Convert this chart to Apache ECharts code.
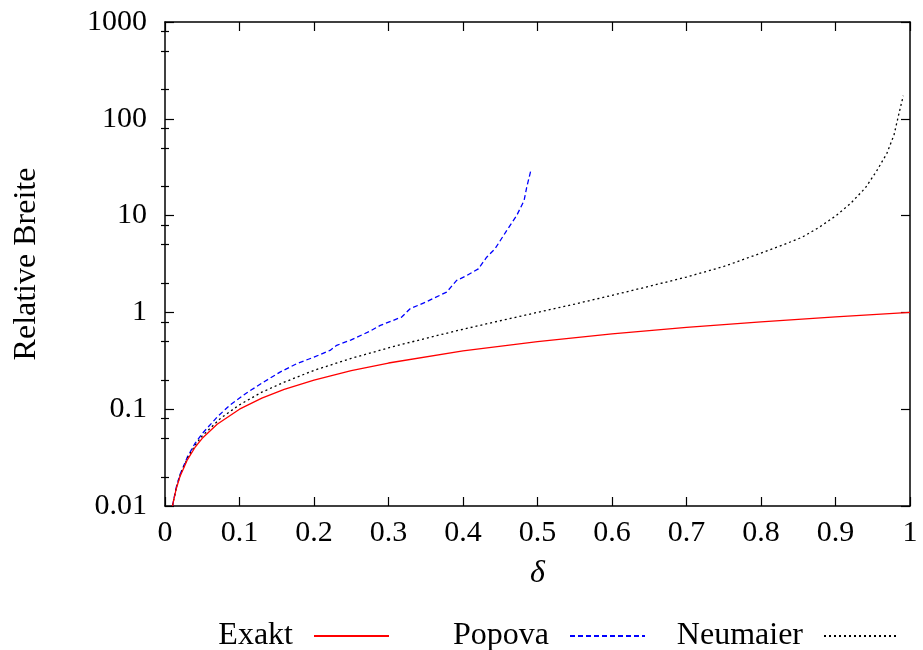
<!DOCTYPE html>
<html>
<head>
<meta charset="utf-8">
<title>Relative Breite</title>
<script src="https://cdn.jsdelivr.net/npm/echarts@6/dist/echarts.min.js"></script>
<style>
  html, body { margin: 0; padding: 0; background: #fff; }
  #chart { width: 923px; height: 650px; }
</style>
</head>
<body>
<div id="chart"></div>
<script>
// Werte
const seriesNames = ['Exakt', 'Popova', 'Neumaier']

const exaktX = [0.01, 0.015, 0.02, 0.03, 0.04, 0.05, 0.07, 0.1, 0.13, 0.16, 0.2, 0.25, 0.3, 0.4, 0.5, 0.6, 0.7, 0.8, 0.9, 1.0]
const exaktY = [0.01, 0.015, 0.02, 0.03, 0.04, 0.05, 0.07, 0.1, 0.13, 0.16, 0.2, 0.25, 0.3, 0.4, 0.5, 0.6, 0.7, 0.8, 0.9, 1.0]

const popovaX = [0.01, 0.015, 0.02, 0.03, 0.04, 0.05, 0.07, 0.087, 0.11, 0.132, 0.155, 0.177, 0.2, 0.2215, 0.2305, 0.25, 0.275, 0.289, 0.3177, 0.329, 0.35, 0.378, 0.3915, 0.405, 0.4206, 0.4318, 0.443, 0.4586, 0.472, 0.482, 0.4855, 0.491]
const popovaY = [0.01, 0.0155, 0.021, 0.032, 0.044, 0.056, 0.083, 0.11, 0.148, 0.19, 0.243, 0.296, 0.345, 0.405, 0.457, 0.52, 0.64, 0.734, 0.895, 1.09, 1.28, 1.62, 2.14, 2.4, 2.82, 3.72, 4.54, 7.0, 10, 14.3, 19.6, 29.1]

const neumaierX = [0.01, 0.015, 0.02, 0.03, 0.04, 0.05, 0.075, 0.1, 0.13, 0.16, 0.2, 0.25, 0.3, 0.35, 0.4, 0.45, 0.5, 0.55, 0.6, 0.65, 0.7, 0.75, 0.8, 0.83, 0.855, 0.878, 0.9, 0.92, 0.94, 0.955, 0.969, 0.9785, 0.985, 0.991]
const neumaierY = [0.0101, 0.0152, 0.0205, 0.031, 0.042, 0.053, 0.081, 0.111, 0.15, 0.19, 0.252, 0.335, 0.43, 0.54, 0.67, 0.82, 1.0, 1.22, 1.5, 1.86, 2.32, 2.98, 4.1, 4.99, 5.97, 7.57, 9.9, 13.3, 19.3, 28.7, 44, 68, 112, 173]

const yMinorTicks = [0.02, 0.05, 0.08, 0.2, 0.5, 0.8, 2, 5, 8, 20, 50, 80, 200, 500, 800]

const pairs = (xs, ys) => xs.map((x, i) => [x, ys[i]])

const FONT = '"Liberation Serif", "DejaVu Serif", serif'
const black = '#000'

const chart = echarts.init(document.getElementById('chart'), null, { renderer: 'canvas' })

const axisLine = { show: true, onZero: false, lineStyle: { color: black, width: 1.5 } }

function yAxisBase(position, showLabel) {
  return {
    type: 'log',
    logBase: 10,
    min: 0.01,
    max: 1000,
    position: position,
    axisLine: axisLine,
    splitLine: { show: false },
    minorTick: { show: false },
    axisTick: { show: true, inside: true, length: 9, lineStyle: { color: black, width: 1.2 } },
    axisLabel: {
      show: showLabel,
      margin: 18,
      color: black,
      fontFamily: FONT,
      fontSize: 30,
      formatter: v => String(+Number(v).toPrecision(3)),
    },
  }
}

// Hilfsachse nur fuer die kleinen Striche bei 2, 5, 8 (in Zehnerpotenzen)
function yAxisMinor(position) {
  return {
    type: 'value',
    min: -2,
    max: 3,
    position: position,
    axisLine: { show: false },
    splitLine: { show: false },
    axisLabel: { show: false },
    axisTick: {
      show: true,
      inside: true,
      length: 4,
      customValues: yMinorTicks.map(v => Math.log10(v)),
      lineStyle: { color: black, width: 1.2 },
    },
  }
}

function xAxisBase(position, showLabel) {
  return {
    type: 'value',
    min: 0,
    max: 1,
    interval: 0.1,
    position: position,
    axisLine: axisLine,
    splitLine: { show: false },
    axisTick: { show: true, inside: true, length: 9, lineStyle: { color: black, width: 1.2 } },
    axisLabel: {
      show: showLabel,
      margin: 12,
      color: black,
      fontFamily: FONT,
      fontSize: 30,
      formatter: v => String(+Number(v).toFixed(1)),
    },
  }
}

function legendFor(name, right) {
  return {
    data: [name],
    right: right,
    top: 620,
    padding: 0,
    align: 'right',
    itemWidth: 75,
    itemHeight: 14,
    selectedMode: false,
    itemStyle: { opacity: 0 },
    textStyle: {
      color: black,
      fontFamily: FONT,
      fontSize: 32,
      padding: [0, 16, 0, 0],
    },
  }
}

const leftY = yAxisBase('left', true)
leftY.name = 'Relative Breite'
leftY.nameLocation = 'middle'
leftY.nameGap = 122
leftY.nameTextStyle = { color: black, fontFamily: FONT, fontSize: 32 }

const bottomX = xAxisBase('bottom', true)
bottomX.name = 'δ'
bottomX.nameLocation = 'middle'
bottomX.nameGap = 52
bottomX.nameTextStyle = { color: black, fontFamily: FONT, fontSize: 32, fontStyle: 'italic' }

const option = {
  animation: false,
  backgroundColor: '#fff',
  grid: { left: 165, right: 13, top: 22, bottom: 144, containLabel: false, outerBoundsMode: 'none' },
  legend: [
    legendFor(seriesNames[0], 533),
    legendFor(seriesNames[1], 277),
    legendFor(seriesNames[2], 23),
  ],
  xAxis: [bottomX, xAxisBase('top', false)],
  yAxis: [leftY, yAxisMinor('left'), yAxisBase('right', false), yAxisMinor('right')],
  series: [
    {
      name: seriesNames[0],
      type: 'line',
      symbol: 'none',
      data: pairs(exaktX, exaktY),
      lineStyle: { color: '#ff0000', width: 1.3, type: 'solid' },
      itemStyle: { color: '#ff0000' },
      z: 3,
    },
    {
      name: seriesNames[1],
      type: 'line',
      symbol: 'none',
      data: pairs(popovaX, popovaY),
      lineStyle: { color: '#0000ff', width: 1.3, type: [5, 3] },
      itemStyle: { color: '#0000ff' },
      z: 2,
    },
    {
      name: seriesNames[2],
      type: 'line',
      symbol: 'none',
      data: pairs(neumaierX, neumaierY),
      lineStyle: { color: '#000000', width: 1.3, type: [2, 3] },
      itemStyle: { color: '#000000' },
      z: 2,
    },
  ],
}

chart.setOption(option)
</script>
</body>
</html>
